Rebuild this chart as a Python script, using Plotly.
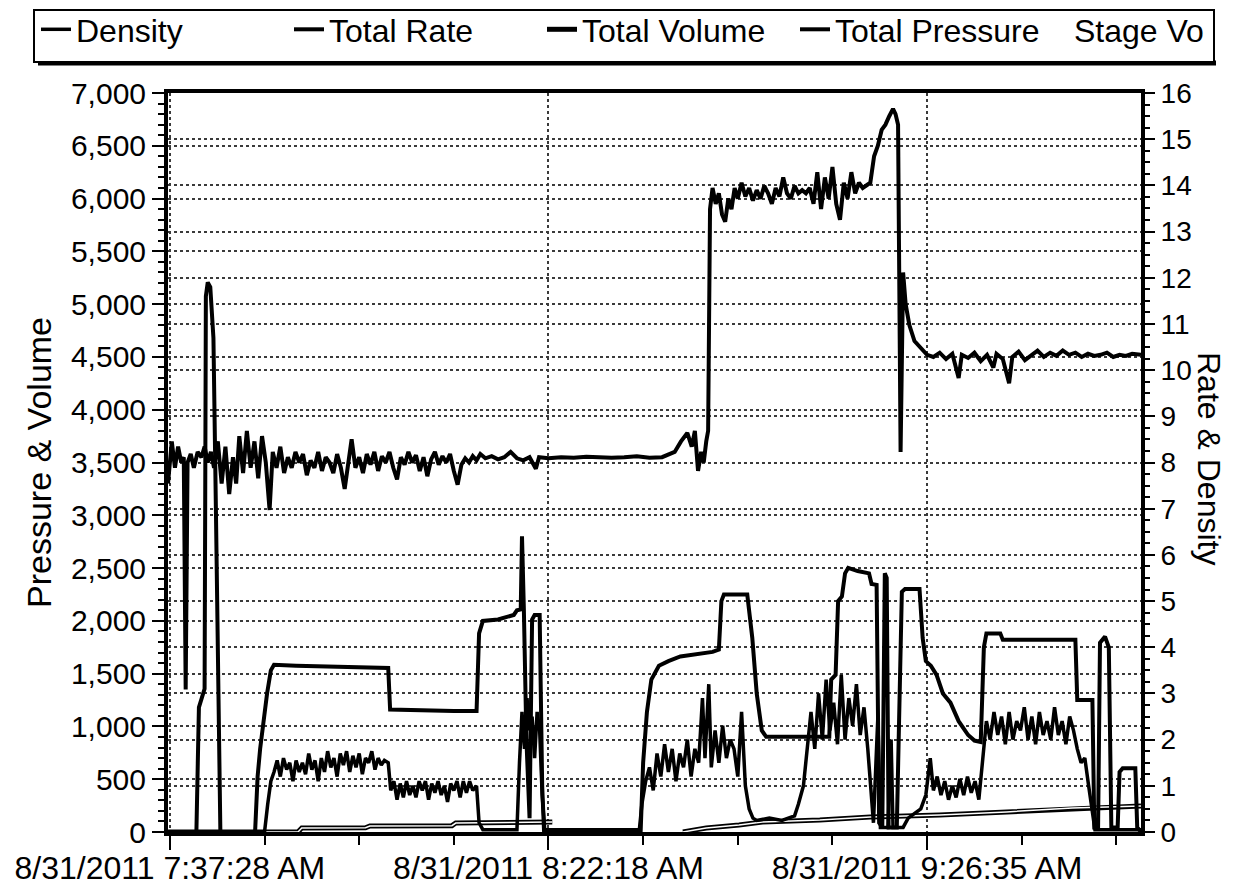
import plotly.graph_objects as go

# ---------------- data (x = elapsed minutes along the time axis) ----------------
tick_pos_min = [0, 60, 120]
tick_times = ["8/31/2011 7:37:28 AM", "8/31/2011 8:22:18 AM", "8/31/2011 9:26:35 AM"]

pressure_t = [-0.3, 0.3, 0.8, 1.3, 1.8, 2.2, 2.5, 2.8, 3.3, 3.8, 4.4, 5.0, 5.5, 6.0, 6.5, 7.0, 7.6, 8.2, 8.8,
              9.4, 10.0, 10.5, 11.0, 11.6, 12.2, 12.8, 13.4, 14.0, 14.6, 15.2, 15.8, 16.3, 16.9, 17.5, 18.1,
              18.7, 19.3, 19.9, 20.5, 21.1, 21.7, 22.3, 22.9, 23.5, 24.1, 24.7, 25.3, 25.9, 26.5, 27.1, 27.7,
              28.3, 28.8, 29.4, 30.0, 30.6, 31.2, 31.8, 32.4, 33.0, 33.6, 34.2, 34.8, 35.4, 36.0, 36.6, 37.2,
              37.8, 38.4, 39.0, 39.6, 40.2, 40.8, 41.4, 42.0, 42.6, 43.2, 43.8, 44.4, 45.0, 45.6, 46.2, 46.8,
              47.4, 48.0, 48.6, 49.2, 50, 51, 52, 53, 54, 55, 56, 57, 58, 58.5, 60, 62, 64, 66, 68, 70, 72,
              74, 76, 78, 80, 81, 82, 82.7, 83.2, 83.7, 84.2, 84.6, 85.0, 85.3, 85.6, 86.0, 86.5, 87.0, 87.5,
              88.0, 88.5, 89.0, 89.5, 90.0, 90.6, 91.2, 91.8, 92.4, 93.0, 93.6, 94.2, 94.8, 95.4, 96.0, 96.6,
              97.2, 97.8, 98.4, 99.0, 99.6, 100.2, 100.8, 101.4, 102.0, 102.6, 103.2, 103.8, 104.4, 105.0,
              105.6, 106.2, 106.8, 107.4, 108.0, 108.6, 109.2, 109.8, 110.4, 111.0, 111.6, 112.2, 112.8,
              113.4, 114.0, 114.6, 115.0, 115.4, 115.8, 116.2, 116.6, 117.2, 118.0, 119.0, 120, 121, 122,
              123, 124, 125, 125.5, 126.5, 127.5, 128.5, 129.5, 130.5, 131, 132, 133, 133.5, 134.5, 135.5,
              136.5, 137.5, 138.5, 139.5, 140.5, 141.5, 142.5, 143.5, 144.5, 145.5, 146.5, 147.5, 148.5,
              149.5, 150.5, 151.5, 152.5, 153.9]
pressure_psi = [3300, 3700, 3450, 3650, 3500, 3550, 1350, 3500, 3580, 3450, 3600, 3550, 3650, 3500, 3600, 3450,
                3700, 3300, 3650, 3200, 3550, 3300, 3750, 3400, 3800, 3450, 3700, 3350, 3750, 3500, 3050, 3600,
                3450, 3650, 3400, 3550, 3450, 3600, 3500, 3580, 3380, 3520, 3450, 3600, 3420, 3550, 3500, 3400,
                3580, 3450, 3250, 3500, 3720, 3450, 3550, 3400, 3580, 3480, 3600, 3420, 3560, 3500, 3600, 3450,
                3340, 3550, 3480, 3600, 3500, 3570, 3420, 3550, 3370, 3530, 3600, 3480, 3560, 3500, 3580, 3420,
                3290, 3480, 3540, 3500, 3560, 3520, 3580, 3540, 3560, 3530, 3550, 3600, 3540, 3520, 3550, 3440,
                3550, 3540, 3550, 3545, 3555, 3550, 3545, 3550, 3560, 3545, 3550, 3600, 3700, 3780, 3650, 3800,
                3420, 3600, 3500, 3700, 3800, 5900, 6100, 5950, 6050, 5850, 5780, 6000, 5900, 6100, 6000, 6150,
                6020, 6100, 5980, 6080, 6000, 6120, 6050, 5950, 6100, 6020, 6200, 6050, 6000, 6120, 6050, 6080,
                6050, 6100, 5950, 6250, 5900, 6200, 6000, 6300, 5950, 5800, 6150, 6000, 6250, 6050, 6150, 6100,
                6120, 6150, 6400, 6500, 6650, 6700, 6780, 6850, 6800, 6700, 3600, 5300, 5000, 4800, 4650, 4580,
                4520, 4500, 4540, 4480, 4530, 4300, 4520, 4490, 4540, 4460, 4520, 4400, 4530, 4480, 4250, 4500,
                4550, 4470, 4520, 4560, 4500, 4540, 4510, 4560, 4520, 4540, 4500, 4530, 4510, 4520, 4540, 4500,
                4520, 4510, 4530, 4520]

rate_t = [-0.3, 4.2, 4.6, 5.2, 5.5, 5.7, 6.0, 6.4, 6.9, 7.3, 7.7, 8.0, 13.5, 13.9, 14.3, 14.8, 15.4, 16.0, 16.5,
          20, 25, 30, 34.6, 34.9, 40, 45, 48.6, 49.0, 49.6, 52, 54.5, 55.0, 55.6, 55.8, 56.1, 56.5, 57.0, 57.4,
          57.8, 58.6, 59.0, 59.3, 74.6, 75.0, 75.6, 76.3, 77.5, 79, 80.9, 83, 86, 87.0, 87.4, 87.8, 91.5, 92.3,
          93.0, 93.8, 94.5, 104.5, 104.8, 105.5, 105.9, 106.5, 107.0, 107.5, 109, 110.8, 111.2, 112.0, 112.4,
          112.9, 113.3, 113.6, 113.9, 115.2, 115.6, 116.0, 116.5, 118.8, 119.3, 119.8, 120.6, 121.5, 122.5,
          123.7, 125, 126.5, 127.5, 128.5, 129.0, 129.4, 131.6, 132, 143.5, 143.8, 146.2, 146.5, 147.1, 147.4,
          148.2, 148.8, 149.2, 150.2, 150.5, 151, 153, 153.3, 153.9]
rate_bpm = [0, 0, 2.7, 3.0, 3.1, 11.6, 11.9, 11.8, 10.7, 6.9, 2.3, 0, 0, 1.2, 1.8, 2.4, 3.0, 3.5, 3.62,
            3.6, 3.58, 3.57, 3.55, 2.65, 2.63, 2.62, 2.62, 4.3, 4.57, 4.6, 4.7, 4.8, 4.82, 6.4, 4.8, 2.0, 0.3,
            4.6, 4.7, 4.7, 1.0, 0, 0, 1.5, 2.6, 3.3, 3.6, 3.7, 3.8, 3.85, 3.9, 3.95, 5.0, 5.14, 5.14, 4.2,
            3.0, 2.2, 2.06, 2.06, 3.3, 3.4, 5.0, 5.1, 5.6, 5.72, 5.65, 5.6, 5.37, 5.35, 0.2, 0.1, 5.6, 5.5,
            0.1, 0.1, 3.0, 5.2, 5.26, 5.26, 4.2, 3.7, 3.6, 3.4, 3.0, 2.8, 2.4, 2.1, 1.98, 1.95, 4.0, 4.3, 4.3,
            4.16, 4.16, 2.86, 2.86, 0.1, 0.1, 4.1, 4.23, 4.0, 0.1, 0.1, 1.3, 1.38, 1.38, 0.1, 0]

density_t = [-0.3, 15.0, 15.5, 16.0, 16.5, 17.0, 17.5, 18.0, 18.5, 19.0, 19.5, 20.0, 20.5, 21.0, 21.5, 22.0,
             22.5, 23.0, 23.5, 24.0, 24.5, 25.0, 25.5, 26.0, 26.5, 27.0, 27.5, 28.0, 28.5, 29.0, 29.5, 30.0,
             30.5, 31.0, 31.5, 32.0, 32.5, 33.0, 33.5, 34.0, 34.6, 35.0, 35.5, 36.0, 36.5, 37.0, 37.5, 38.0,
             38.5, 39.0, 39.5, 40.0, 40.5, 41.0, 41.5, 42.0, 42.5, 43.0, 43.5, 44.0, 44.5, 45.0, 45.5, 46.0,
             46.5, 47.0, 47.5, 48.0, 48.6, 49.0, 49.6, 55.0, 55.4, 55.8, 56.2, 56.6, 57.0, 57.4, 57.8, 58.2,
             58.6, 59.0, 59.4, 74.4, 74.8, 75.4, 76.0, 76.6, 77.2, 77.8, 78.4, 79.0, 79.6, 80.2, 80.8, 81.4,
             82.0, 82.6, 83.2, 83.8, 84.4, 84.8, 85.4, 85.8, 86.4, 87.0, 87.6, 88.2, 88.8, 89.4, 90.0, 90.6,
             91.2, 91.8, 92.4, 93, 95, 97, 99, 99.6, 100.4, 101.0, 101.6, 102.2, 102.8, 103.4, 104.0, 104.6,
             105.2, 105.8, 106.4, 107.0, 107.6, 108.2, 108.8, 109.4, 110.0, 110.6, 111.2, 111.5, 112.2, 112.6,
             113.8, 114.3, 114.6, 115.5, 116.2, 117.0, 118.0, 119.0, 119.8, 120.5, 121.0, 121.6, 122.2, 122.8,
             123.4, 124.0, 124.6, 125.2, 125.8, 126.4, 127.0, 127.6, 128.2, 128.8, 129.4, 130.0, 130.6, 131.2,
             131.8, 132.4, 133.0, 133.6, 134.2, 134.8, 135.4, 136.0, 136.6, 137.2, 137.8, 138.4, 139.0, 139.6,
             140.2, 140.8, 141.4, 142.0, 142.6, 143.2, 143.8, 144.4, 145.0, 145.6, 146.2, 146.6, 153.9]
density_val = [0, 0, 0.6, 1.1, 1.3, 1.55, 1.2, 1.6, 1.35, 1.5, 1.1, 1.55, 1.3, 1.5, 1.25, 1.7, 1.35, 1.55, 1.1,
               1.6, 1.3, 1.75, 1.4, 1.6, 1.2, 1.7, 1.45, 1.75, 1.3, 1.65, 1.4, 1.7, 1.25, 1.6, 1.5, 1.75, 1.35,
               1.6, 1.45, 1.55, 1.5, 0.9, 1.1, 0.7, 1.05, 0.75, 1.1, 0.8, 1.0, 0.75, 1.1, 0.9, 1.1, 0.7, 1.05,
               0.85, 1.1, 0.8, 1.0, 0.65, 1.05, 0.9, 1.1, 0.75, 1.1, 0.85, 1.1, 0.9, 1.0, 0.2, 0.05, 0.05, 1.5,
               2.6, 1.8, 2.9, 2.2, 2.5, 1.6, 2.6, 2.2, 0.8, 0.05, 0.05, 0.6, 1.1, 1.4, 0.9, 1.7, 1.2, 1.9, 1.3,
               1.8, 1.1, 1.7, 1.4, 2.0, 1.2, 1.8, 1.5, 2.9, 1.6, 3.2, 1.4, 2.2, 1.5, 2.3, 1.6, 2.0, 1.8, 1.2,
               2.6, 1.0, 0.5, 0.3, 0.25, 0.3, 0.25, 0.35, 0.6, 1.0, 1.9, 2.6, 1.8, 3.0, 2.0, 3.3, 2.2, 2.8, 1.9,
               3.4, 2.0, 2.9, 2.3, 3.2, 2.1, 2.7, 1.8, 0.6, 0.2, 2.5, 0.1, 0.1, 2.0, 0.1, 0.1, 0.1, 0.3, 0.4,
               0.5, 0.8, 1.6, 0.9, 1.2, 0.8, 1.1, 0.7, 1.0, 0.75, 1.15, 0.8, 1.2, 0.85, 1.1, 0.7, 1.6, 2.4, 2.0,
               2.6, 2.1, 2.5, 1.9, 2.6, 2.0, 2.4, 2.2, 2.7, 2.0, 2.5, 1.9, 2.6, 2.1, 2.4, 2.0, 2.7, 2.1, 2.4,
               1.9, 2.5, 2.2, 1.8, 1.5, 1.6, 1.0, 0.4, 0.05, 0.05]

volume_t = [-0.3, 20.3, 20.9, 31.0, 31.7, 44.7, 45.3, 60.6, None, 81.3, 85.0, 90.2, 93.9, 103.0, 111.0, 122.0,
            132.6, 143.0, 153.9]
total_volume = [0, 0, 38, 40, 57, 60, 85, 95, None, 0, 38, 66, 95, 114, 142, 161, 190, 228, 247]
stage_volume = [0, 0, 38, 40, 57, 60, 85, 95, None, 0, 38, 66, 95, 114, 142, 161, 190, 228, 247]

# ---------------- figure ----------------
FONT = "Liberation Sans, Arial, sans-serif"
grid = dict(showgrid=True, gridcolor="#3a3a3a", griddash="dot", gridwidth=1.5)
plot_l, plot_r, plot_t, plot_b = 168, 1141, 93, 832


def px_x(v):
    return (v - plot_l) / (plot_r - plot_l)


def px_y(v):
    return (plot_b - v) / (plot_b - plot_t)


fig = go.Figure()
fig.add_trace(go.Scatter(x=density_t, y=density_val, name="Density", yaxis="y2", mode="lines",
                         line=dict(color="black", width=3.5)))
fig.add_trace(go.Scatter(x=rate_t, y=rate_bpm, name="Total Rate", yaxis="y2", mode="lines",
                         line=dict(color="black", width=4)))
fig.add_trace(go.Scatter(x=volume_t, y=total_volume, name="Total Volume", mode="lines",
                         line=dict(color="black", width=5)))
fig.add_trace(go.Scatter(x=pressure_t, y=pressure_psi, name="Total Pressure", mode="lines",
                         line=dict(color="black", width=4)))
fig.add_trace(go.Scatter(x=volume_t, y=stage_volume, name="Stage Vo", mode="lines", legend="legend2",
                         line=dict(color="white", width=1.5)))

legend_common = dict(orientation="h", xanchor="left", yanchor="top",
                     bgcolor="rgba(0,0,0,0)", bordercolor="rgba(0,0,0,0)", borderwidth=2,
                     font=dict(family=FONT, size=32, color="black"), itemwidth=30)

frame_left, frame_right, frame_top, frame_bottom = 34, 1214, 10, 62

fig.update_layout(
    template="none",
    width=1241, height=891, autosize=False,
    margin=dict(l=plot_l, r=1241 - plot_r, t=plot_t, b=891 - plot_b, pad=0, autoexpand=False),
    paper_bgcolor="white", plot_bgcolor="white",
    font=dict(family=FONT, color="black", size=30),
    showlegend=True,
    legend=dict(x=px_x(34), y=px_y(0), entrywidth=208, entrywidthmode="pixels", **legend_common),
    legend2=dict(x=px_x(1032), y=px_y(0), **legend_common),
    xaxis=dict(range=[-0.3, 153.9], tickmode="array", tickvals=tick_pos_min, ticktext=tick_times,
               ticks="outside", ticklen=14, tickwidth=2, tickcolor="black", ticklabelstandoff=-9,
               showline=True, linewidth=4, linecolor="black", mirror=True, zeroline=False,
               tickfont=dict(size=32),
               minor=dict(tickmode="linear", tick0=0, dtick=15, ticks="outside", ticklen=9,
                          tickwidth=2, tickcolor="black", showgrid=False),
               **grid),
    yaxis=dict(range=[0, 7000], dtick=500, tickformat=",", ticks="outside", ticklen=12, tickwidth=2,
               tickcolor="black", showline=True, linewidth=4, linecolor="black", zeroline=False,
               tickfont=dict(size=30),
               title=dict(text="Pressure & Volume", font=dict(size=34), standoff=10),
               minor=dict(dtick=100, ticks="outside", ticklen=6, tickwidth=2, tickcolor="black",
                          showgrid=False),
               **grid),
    yaxis2=dict(range=[0, 16], dtick=1, overlaying="y", side="right", ticks="outside", ticklen=10,
                tickwidth=2, tickcolor="black", showline=True, linewidth=4, linecolor="black",
                zeroline=False, tickfont=dict(size=28),
                minor=dict(dtick=0.25, ticks="outside", ticklen=5, tickwidth=2, tickcolor="black",
                           showgrid=False),
                **grid),
    annotations=[dict(text="Rate & Density", textangle=90, xref="paper", yref="paper",
                      x=px_x(1209), y=px_y(458), xanchor="center", yanchor="middle", showarrow=False,
                      font=dict(family=FONT, size=32, color="black"))],
    shapes=[
        dict(type="line", xref="paper", yref="paper", x0=px_x(38), x1=px_x(frame_right + 2),
             y0=px_y(63), y1=px_y(63), line=dict(color="black", width=5), layer="below"),
        dict(type="rect", xref="paper", yref="paper", x0=px_x(frame_left), x1=px_x(frame_right),
             y0=px_y(frame_bottom), y1=px_y(frame_top),
             line=dict(color="black", width=2), fillcolor="white", layer="below"),
    ],
)

fig.write_html("out.html", config={"displayModeBar": False},
               post_script="document.body.style.margin='0px';document.body.style.padding='0px';")
